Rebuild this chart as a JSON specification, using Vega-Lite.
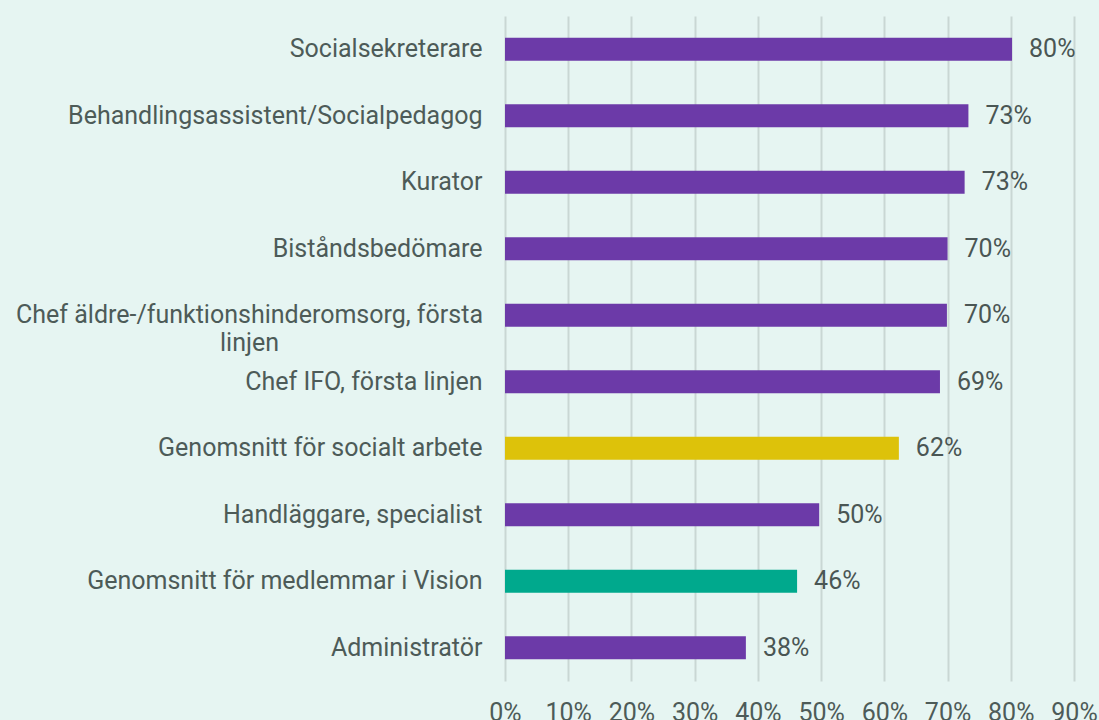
{
  "$schema": "https://vega.github.io/schema/vega-lite/v6.json",
  "width": 569,
  "height": 665,
  "autosize": "none",
  "padding": {"left": 505, "top": 16, "right": 25, "bottom": 39},
  "background": "#e6f5f2",
  "config": {
    "view": {"stroke": null},
    "font": "Roboto",
    "axis": {"labelFont": "Roboto", "labelColor": "#4d5b58", "labelFontSize": 25}
  },
  "data": {
    "values": [
      {"role": "Socialsekreterare", "value": 0.802, "group": "Yrke"},
      {"role": "Behandlingsassistent/Socialpedagog", "value": 0.733, "group": "Yrke"},
      {"role": "Kurator", "value": 0.727, "group": "Yrke"},
      {"role": "Biståndsbedömare", "value": 0.70, "group": "Yrke"},
      {"role": "Chef äldre-/funktionshinderomsorg, första linjen", "value": 0.699, "group": "Yrke"},
      {"role": "Chef IFO, första linjen", "value": 0.688, "group": "Yrke"},
      {"role": "Genomsnitt för socialt arbete", "value": 0.623, "group": "Socialt arbete"},
      {"role": "Handläggare, specialist", "value": 0.497, "group": "Yrke"},
      {"role": "Genomsnitt för medlemmar i Vision", "value": 0.462, "group": "Vision"},
      {"role": "Administratör", "value": 0.381, "group": "Yrke"}
    ]
  },
  "encoding": {
    "y": {
      "field": "role",
      "type": "nominal",
      "sort": null,
      "title": null,
      "scale": {"paddingInner": 0.654, "paddingOuter": 0.327},
      "axis": {
        "domain": false,
        "ticks": false,
        "labelPadding": {"condition": {"test": "datum.value == 'Chef äldre-/funktionshinderomsorg, första linjen'", "value": 256}, "value": 23},
        "labelLimit": 0,
        "labelLineHeight": 28,
        "labelAlign": {"condition": {"test": "datum.value == 'Chef äldre-/funktionshinderomsorg, första linjen'", "value": "center"}, "value": "right"},
        "labelExpr": "datum.value == 'Chef äldre-/funktionshinderomsorg, första linjen' ? ['Chef äldre-/funktionshinderomsorg, första', 'linjen'] : datum.value"
      }
    },
    "x": {
      "field": "value",
      "type": "quantitative",
      "title": null,
      "scale": {"domain": [0, 0.9], "nice": false},
      "axis": {
        "values": [0, 0.1, 0.2, 0.3, 0.4, 0.5, 0.6, 0.7, 0.8, 0.9],
        "format": ".0%",
        "grid": true,
        "gridColor": "#c9d7d4",
        "gridWidth": 2,
        "domain": false,
        "ticks": false,
        "labelFlush": false,
        "labelPadding": 19
      }
    }
  },
  "layer": [
    {
      "mark": {"type": "bar"},
      "encoding": {
        "color": {
          "field": "group",
          "type": "nominal",
          "legend": null,
          "scale": {"domain": ["Yrke", "Socialt arbete", "Vision"], "range": ["#6c3aa8", "#ddc20a", "#00a98d"]}
        }
      }
    },
    {
      "mark": {"type": "text", "align": "left", "dx": 17, "fontSize": 25, "color": "#4a5654", "font": "Roboto"},
      "encoding": {
        "text": {"field": "value", "type": "quantitative", "format": ".0%"}
      }
    }
  ]
}
